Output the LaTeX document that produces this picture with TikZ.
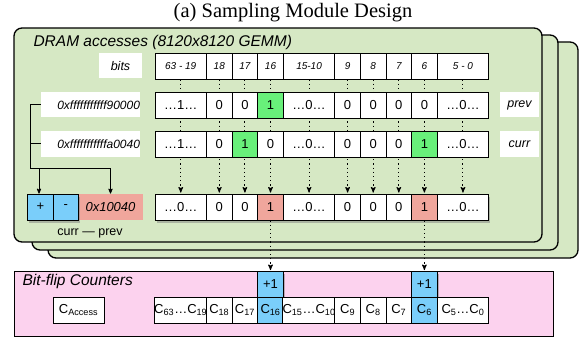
\documentclass[tikz,border=0pt]{standalone}
\usepackage{fontspec}
\setmainfont{Liberation Serif}
\setsansfont{Liberation Sans}
\usetikzlibrary{arrows,shadows}

\definecolor{panelgreen}{RGB}{214,232,196}
\definecolor{bitgreen}{RGB}{104,240,122}
\definecolor{cntblue}{RGB}{122,206,250}
\definecolor{diffred}{RGB}{240,166,156}
\definecolor{cntpink}{RGB}{252,210,238}

\begin{document}
\begin{tikzpicture}[x=1pt,y=-1pt,>=stealth',
  cell/.style={draw,fill=white,line width=0.8pt,minimum width=25.6pt,minimum height=26pt,
    inner sep=0pt,font=\sffamily\fontsize{13}{13}\selectfont},
  wide/.style={minimum width=51.5pt},
  head/.style={cell,font=\sffamily\itshape\fontsize{10}{10}\selectfont},
  tag/.style={fill=white,inner sep=0pt,minimum height=25pt,font=\sffamily\itshape\fontsize{12.5}{12.5}\selectfont},
  shade/.style={drop shadow={opacity=0.5,shadow xshift=1.5pt,shadow yshift=-2.5pt}},
  panel/.style={draw,fill=panelgreen,line width=1.3pt,rounded corners=8pt},
  flow/.style={->,dash pattern=on 1.2pt off 3pt,line width=1pt,shorten >=1pt}]

  \useasboundingbox (0,0) rectangle (585,339);
  \node[font=\fontsize{20.5}{20.5}\selectfont] (title) at (293,13) {(a) Sampling Module Design};

  % stacked access panels
  \draw[panel] (48,42) rectangle (578,258);
  \draw[panel] (32,35) rectangle (558,250);
  \draw[panel] (14,28) rectangle (542,242);
  \node[anchor=west,font=\sffamily\itshape\fontsize{15.5}{15.5}\selectfont] (dram) at (30,42) {DRAM accesses (8120x8120 GEMM)};

  % counters
  \draw[fill=cntpink,line width=1pt] (14,271) rectangle (553,336);
  \node[anchor=west,font=\sffamily\itshape\fontsize{15.5}{15.5}\selectfont] (bfc) at (19,281) {Bit-flip Counters};

  \node[tag,minimum width=43pt] (bits) at (120.5,66) {bits};
  \node[head,wide] (b1)  at (180.75,66) {63 - 19};
  \node[head]      (b2)  at (219.3,66)  {18};
  \node[head]      (b3)  at (244.9,66)  {17};
  \node[head]      (b4)  at (270.5,66)  {16};
  \node[head,wide] (b5)  at (309.05,66) {15-10};
  \node[head]      (b6)  at (347.6,66)  {9};
  \node[head]      (b7)  at (373.2,66)  {8};
  \node[head]      (b8)  at (398.8,66)  {7};
  \node[head]      (b9)  at (424.4,66)  {6};
  \node[head,wide] (b10) at (462.95,66) {5 - 0};

  \node[cell,wide,shade]          (r1)  at (180.75,207) {…0…};
  \node[cell,shade]               (r2)  at (219.3,207)  {0};
  \node[cell,shade]               (r3)  at (244.9,207)  {0};
  \node[cell,shade,fill=diffred]  (r4)  at (270.5,207)  {1};
  \node[cell,wide,shade]          (r5)  at (309.05,207) {…0…};
  \node[cell,shade]               (r6)  at (347.6,207)  {0};
  \node[cell,shade]               (r7)  at (373.2,207)  {0};
  \node[cell,shade]               (r8)  at (398.8,207)  {0};
  \node[cell,shade,fill=diffred]  (r9)  at (424.4,207)  {1};
  \node[cell,wide,shade]          (r10) at (462.95,207) {…0…};

  \node[cell,shade,fill=cntblue] (u4) at (270.5,284.5) {+1};
  \node[cell,shade,fill=cntblue] (u9) at (424.4,284.5) {+1};

  \path[flow]
    (b1) edge (r1)
    (b2) edge (r2)
    (b3) edge (r3)
    (b4) edge (r4)
    (b5) edge (r5)
    (b6) edge (r6)
    (b7) edge (r7)
    (b8) edge (r8)
    (b9) edge (r9)
    (b10) edge (r10)
    (r4) edge (u4)
    (r9) edge (u9);

  % prev / curr addresses
  \node[tag,text width=99pt,align=right,font=\sffamily\itshape\fontsize{12}{12}\selectfont] (pa) at (90.5,105) {0xfffffffffff90000};
  \node[tag,text width=99pt,align=right,font=\sffamily\itshape\fontsize{12}{12}\selectfont] (ca) at (90.5,144) {0xfffffffffffa0040};
  \node[tag,minimum width=39pt] (pv) at (519.5,105) {prev};
  \node[tag,minimum width=39pt] (cv) at (519.5,144) {curr};

  \node[cell,wide]               (p1)  at (180.75,105) {…1…};
  \node[cell]                    (p2)  at (219.3,105)  {0};
  \node[cell]                    (p3)  at (244.9,105)  {0};
  \node[cell,fill=bitgreen]      (p4)  at (270.5,105)  {1};
  \node[cell,wide]               (p5)  at (309.05,105) {…0…};
  \node[cell]                    (p6)  at (347.6,105)  {0};
  \node[cell]                    (p7)  at (373.2,105)  {0};
  \node[cell]                    (p8)  at (398.8,105)  {0};
  \node[cell]                    (p9)  at (424.4,105)  {0};
  \node[cell,wide]               (p10) at (462.95,105) {…0…};

  \node[cell,wide]               (c1)  at (180.75,144) {…1…};
  \node[cell]                    (c2)  at (219.3,144)  {0};
  \node[cell,fill=bitgreen]      (c3)  at (244.9,144)  {1};
  \node[cell]                    (c4)  at (270.5,144)  {0};
  \node[cell,wide]               (c5)  at (309.05,144) {…0…};
  \node[cell]                    (c6)  at (347.6,144)  {0};
  \node[cell]                    (c7)  at (373.2,144)  {0};
  \node[cell]                    (c8)  at (398.8,144)  {0};
  \node[cell,fill=bitgreen]      (c9)  at (424.4,144)  {1};
  \node[cell,wide]               (c10) at (462.95,144) {…0…};

  % curr - prev
  \node[cell,fill=diffred,draw=none,minimum width=65pt,font=\sffamily\itshape\fontsize{13}{13}\selectfont] (diff) at (110.5,207) {0x10040};
  \node[cell,shade,fill=cntblue] (plus)  at (40.5,207) {+};
  \node[cell,shade,fill=cntblue] (minus) at (65.8,207) {-};
  \node[font=\sffamily\fontsize{12.5}{12.5}\selectfont] (note) at (90,233) {curr — prev};

  \coordinate (fork) at (30,168);
  \draw[line width=1pt] (pa.west) -- (pa.west -| fork) -- (fork) -- (fork -| diff.north);
  \draw[line width=1pt] (ca.west) -- (ca.west -| fork);
  \draw[->,line width=0.8pt] (fork -| 39,0) -- (plus.north -| 39,0);
  \draw[->,line width=0.8pt] (fork -| diff.north) -- (diff.north);

  \node[cell,minimum width=51pt] (acc) at (78.5,310) {C\textsubscript{Access}};
  \node[cell,wide]               (k1)  at (180.75,310) {C\textsubscript{63}…C\textsubscript{19}};
  \node[cell]                    (k2)  at (219.3,310)  {C\textsubscript{18}};
  \node[cell]                    (k3)  at (244.9,310)  {C\textsubscript{17}};
  \node[cell,fill=cntblue]       (k4)  at (270.5,310)  {C\textsubscript{16}};
  \node[cell,wide]               (k5)  at (309.05,310) {C\textsubscript{15}…C\textsubscript{10}};
  \node[cell]                    (k6)  at (347.6,310)  {C\textsubscript{9}};
  \node[cell]                    (k7)  at (373.2,310)  {C\textsubscript{8}};
  \node[cell]                    (k8)  at (398.8,310)  {C\textsubscript{7}};
  \node[cell,fill=cntblue]       (k9)  at (424.4,310)  {C\textsubscript{6}};
  \node[cell,wide]               (k10) at (462.95,310) {C\textsubscript{5}…C\textsubscript{0}};
\end{tikzpicture}
\end{document}
